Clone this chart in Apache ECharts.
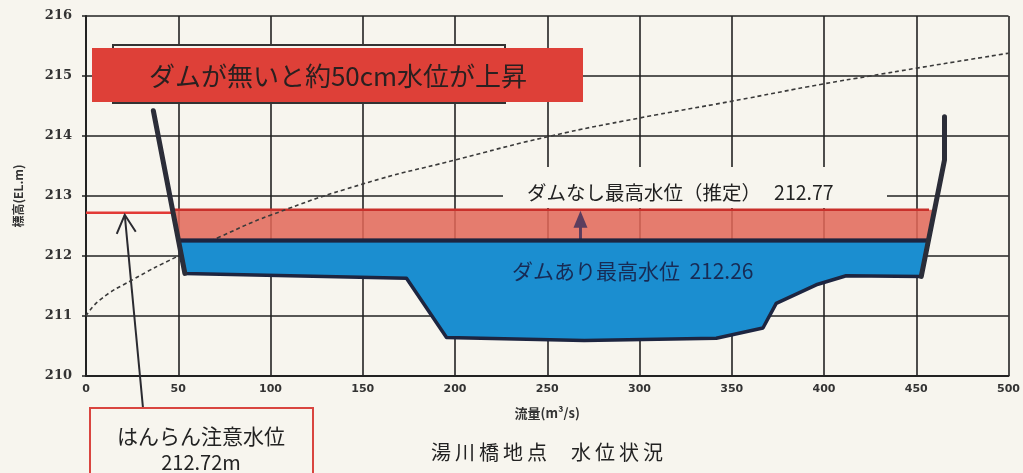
<!DOCTYPE html>
<html><head><meta charset="utf-8">
<script src="https://cdn.jsdelivr.net/npm/echarts@6/dist/echarts.min.js"></script>
<style>html,body{margin:0;padding:0;background:#f7f5ee;}#c{width:1023px;height:473px;}</style>
</head><body><div id="c"></div>
<script>
// ---- data ----
const xMin = 0, xMax = 500, xStep = 50;
const yMin = 210, yMax = 216, yStep = 1;
// rating curve (dashed): [flow, elevation]
const ratingCurve = [[0,211.0],[7.6,211.27],[25,211.6],[50,212.0],[72.6,212.32],[100,212.68],[150,213.2],[200,213.6],[252,214.0],[300,214.3],[350,214.58],[400,214.87],[425,215.0],[450,215.13],[500,215.38]];
// river cross-section (schematic, drawn in same axes)
const leftBank = [[36.5,214.42],[53.6,211.71]];
const rightBank = [[452.7,211.66],[465.3,213.6],[465.3,214.32]];
const channelBed = [[53.6,211.71],[173.7,211.63],[195.4,210.64],[270,210.59],[341.6,210.63],[366.9,210.8],[374.1,211.21],[395.8,211.52],[412,211.67],[452.7,211.66]];
const levelWithDam = 212.26;
const levelNoDam = 212.77;
const warningLevel = 212.72;
const riseArrowAt = 268;
const warningArrowAt = 21;

const BG = '#f7f5ee';
const CJK = '"Noto Sans CJK JP","Noto Sans",sans-serif';

function bankX(bank, y){
  for (let i=0;i<bank.length-1;i++){
    const [x1,y1]=bank[i],[x2,y2]=bank[i+1];
    if (y1!==y2 && (y-y1)*(y-y2)<=0) return x1+(y-y1)*(x2-x1)/(y2-y1);
  }
  return bank[0][0];
}

const chart = echarts.init(document.getElementById('c'), null, {renderer:'canvas'});

function redBandRender(params, api){
  const nd = levelNoDam, wd = levelWithDam;
  const pts = [[bankX(leftBank,nd),nd],[bankX(rightBank,nd),nd],[bankX(rightBank,wd),wd],[bankX(leftBank,wd),wd]].map(p=>api.coord(p));
  const tl = api.coord([bankX(leftBank,nd)-1,nd]), tr = api.coord([bankX(rightBank,nd)-3,nd]);
  const w0 = api.coord([xMin,warningLevel]), w1 = api.coord([bankX(leftBank,warningLevel),warningLevel]);
  const a0 = api.coord([riseArrowAt,wd]), a1 = api.coord([riseArrowAt,nd]);
  const tip = api.coord([warningArrowAt,warningLevel]);
  tip[1] += 2;
  const tail = [143,408];
  return {type:'group', children:[
    {type:'polygon', shape:{points:pts}, style:{fill:'rgba(226,104,88,0.86)'}},
    {type:'line', shape:{x1:tl[0],y1:tl[1],x2:tr[0],y2:tr[1]}, style:{stroke:'#c9302b',lineWidth:2.5}},
    {type:'line', shape:{x1:w0[0],y1:w0[1],x2:w1[0],y2:w1[1]}, style:{stroke:'#e23a36',lineWidth:2.5}},
    {type:'line', shape:{x1:a0[0],y1:a0[1],x2:a1[0],y2:a1[1]+16}, style:{stroke:'#5b3d5e',lineWidth:3}},
    {type:'polygon', shape:{points:[[a1[0],a1[1]+1],[a1[0]-7,a1[1]+18],[a1[0]+7,a1[1]+18]]}, style:{fill:'#5b3d5e'}},
    {type:'line', shape:{x1:tail[0],y1:tail[1],x2:tip[0],y2:tip[1]}, style:{stroke:'#2a2a30',lineWidth:2}},
    {type:'polyline', shape:{points:[[tip[0]-8,tip[1]+19],[tip[0],tip[1]],[tip[0]+11,tip[1]+17]]}, style:{stroke:'#2a2a30',lineWidth:2,fill:null}}
  ]};
}

function blueRender(params, api){
  const wd = levelWithDam;
  const poly = [[bankX(leftBank,wd),wd],[bankX(rightBank,wd),wd]].concat(channelBed.slice().reverse());
  const pts = poly.map(p=>api.coord(p));
  const t0 = api.coord([bankX(leftBank,wd),wd]), t1 = api.coord([bankX(rightBank,wd),wd]);
  return {type:'group', children:[
    {type:'polygon', shape:{points:pts}, style:{fill:'#1b8ed0',stroke:'#1d2540',lineWidth:3.5,lineJoin:'round'}},
    {type:'line', shape:{x1:t0[0],y1:t0[1],x2:t1[0],y2:t1[1]}, style:{stroke:'#1d2540',lineWidth:4}}
  ]};
}

chart.setOption({
  backgroundColor: BG,
  animation:false,
  grid:{left:86,right:14,top:16,bottom:97,containLabel:false},
  xAxis:{type:'value',min:xMin,max:xMax,interval:xStep,
    name:'流量(m³/s)',nameLocation:'middle',nameGap:31,
    nameTextStyle:{fontSize:13,fontWeight:'bold',color:'#333',fontFamily:CJK},
    axisLine:{show:true,lineStyle:{color:'#222',width:2}},
    axisTick:{show:false},
    axisLabel:{margin:8,fontSize:11,fontWeight:'bold',color:'#333',fontFamily:'"DejaVu Sans"'},
    splitLine:{show:true,lineStyle:{color:'#222',width:1.6}}},
  yAxis:{type:'value',min:yMin,max:yMax,interval:yStep,
    name:'標高(EL.m)',nameLocation:'middle',nameGap:62,
    nameTextStyle:{fontSize:12,fontWeight:'bold',color:'#333',fontFamily:CJK},
    axisLine:{show:true,lineStyle:{color:'#222',width:2}},
    axisTick:{show:true,length:4,lineStyle:{color:'#222',width:1.5}},
    axisLabel:{margin:14,fontSize:13,fontWeight:'bold',color:'#333',fontFamily:'"DejaVu Serif"'},
    splitLine:{show:true,lineStyle:{color:'#222',width:1.6}}},
  series:[
    {type:'custom',coordinateSystem:'cartesian2d',renderItem:redBandRender,data:[[0,210]],z:2,clip:false,silent:true},
    {type:'line',data:ratingCurve,smooth:true,showSymbol:false,z:3,
      lineStyle:{color:'#3a3a3a',width:1.6,type:[4,3]}},
    {type:'custom',coordinateSystem:'cartesian2d',renderItem:blueRender,data:[[0,210]],z:4,clip:false,silent:true},
    {type:'line',data:leftBank,showSymbol:false,z:5,lineStyle:{color:'#2b2d38',width:5,cap:'round'}},
    {type:'line',data:rightBank,showSymbol:false,z:5,lineStyle:{color:'#2b2d38',width:5,cap:'round'}}
  ],
  graphic:[
    {type:'rect',z:10,shape:{x:113,y:45,width:392,height:58},style:{fill:BG,stroke:'#333',lineWidth:2}},
    {type:'rect',z:11,shape:{x:92,y:48,width:491,height:54},style:{fill:'#de4038'}},
    {type:'text',z:12,x:338,y:76,style:{text:'ダムが無いと約50cm水位が上昇',font:'26px '+CJK,fill:'#2a2020',textAlign:'center',textVerticalAlign:'middle'}},
    {type:'rect',z:10,shape:{x:503,y:167,width:384,height:41},style:{fill:BG}},
    {type:'text',z:12,x:527,y:193,style:{text:'ダムなし最高水位（推定）   '+levelNoDam.toFixed(2),font:'19.5px '+CJK,fill:'#222',textAlign:'left',textVerticalAlign:'middle'}},
    {type:'text',z:12,x:512,y:271,style:{text:'ダムあり最高水位  '+levelWithDam.toFixed(2),font:'21px '+CJK,fill:'#172b55',textAlign:'left',textVerticalAlign:'middle'}},
    {type:'rect',z:10,shape:{x:90,y:408,width:223,height:80},style:{fill:BG,stroke:'#d9453f',lineWidth:2}},
    {type:'text',z:12,x:201,y:436,style:{text:'はんらん注意水位',font:'21px '+CJK,fill:'#222',textAlign:'center',textVerticalAlign:'middle'}},
    {type:'text',z:12,x:201,y:462,style:{text:warningLevel.toFixed(2)+'m',font:'20px '+CJK,fill:'#222',textAlign:'center',textVerticalAlign:'middle'}},
    {type:'text',z:12,x:547,y:452,style:{text:'湯\u2009川\u2009橋\u2009地\u2009点\u3000\u2009水\u2009位\u2009状\u2009況',font:'20px '+CJK,fill:'#222',textAlign:'center',textVerticalAlign:'middle'}}
  ]
});
</script></body></html>
